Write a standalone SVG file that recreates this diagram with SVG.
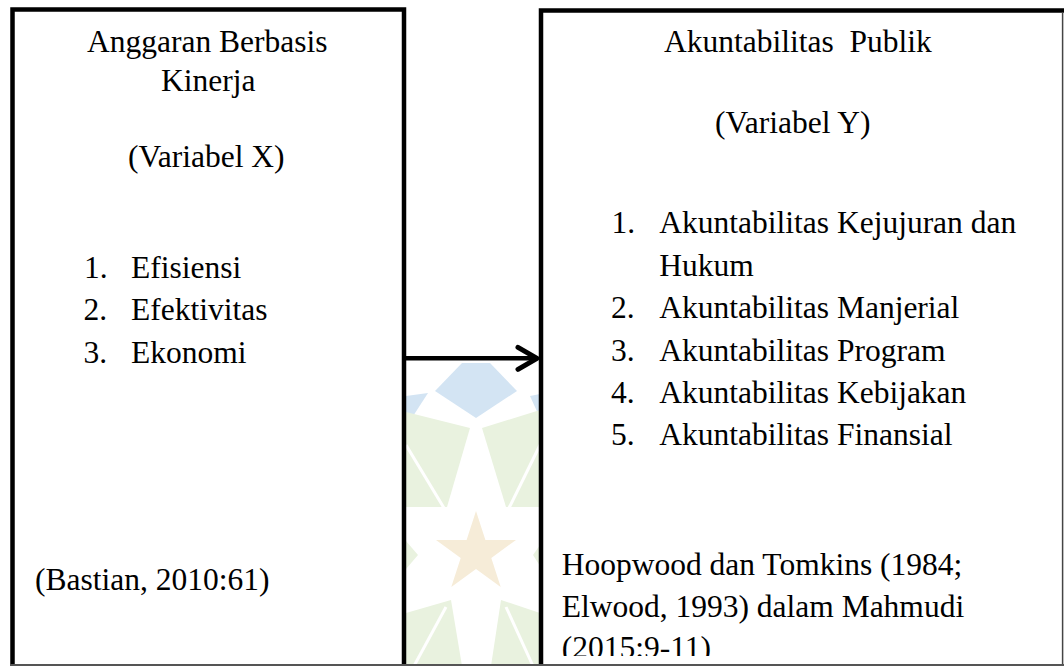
<svg xmlns="http://www.w3.org/2000/svg" width="1064" height="666" viewBox="0 0 1064 666">
  <defs>
    <style>
      .t { font-family: "Liberation Serif", "Times New Roman", serif; font-size: 31.5px; fill: #000; }
      .box { fill: #fff; stroke: #000; stroke-width: 4.5; }
      .edge { stroke: #000; stroke-width: 4.5; fill: none; }
      .wb { fill: #d3e4f3; }
      .wg { fill: #e9f2df; }
      .ws { fill: #f6ecd8; }
      .wl { stroke: #fff; stroke-width: 3; }
    </style>
    <marker id="chev" markerUnits="userSpaceOnUse" markerWidth="30" markerHeight="30" viewBox="-24 -15 30 30" refX="0" refY="0" orient="auto">
      <path d="M-19,-11 L0,0 L-19,11" fill="none" stroke="#000" stroke-width="5" stroke-linecap="round" stroke-linejoin="round"/>
    </marker>
    <clipPath id="gap"><rect x="406" y="361" width="134" height="305"/></clipPath>
    <clipPath id="page"><rect x="0" y="0" width="1064" height="656"/></clipPath>
  </defs>

  <rect width="1064" height="666" fill="#fff"/>

  <!-- faint background watermark -->
  <g id="watermark" clip-path="url(#gap)">
    <polygon class="wb" points="462,363 490,363 517,391 476,418 435,391"/>
    <polygon class="wb" points="406,396 428,393 406,427"/>
    <polygon class="wb" points="540,394 530,396 540,418"/>
    <polygon class="wg" points="406,412 470,428 447,507 406,507"/>
    <line class="wl" x1="406" y1="445" x2="444" y2="508"/>
    <polygon class="wg" points="482,428 540,410 540,507 506,507"/>
    <line class="wl" x1="540" y1="445" x2="509" y2="508"/>
    <polygon class="ws" points="476,511 485.4,540 516,540 491.3,558 500.7,587 476,569 451.3,587 460.7,558 436,540 466.6,540"/>
    <polygon class="wg" points="406,541 418,555 406,569"/>
    <polygon class="wg" points="540,545 533,555 540,566"/>
    <polygon class="wg" points="406,613 451,600 462,666 406,666"/>
    <line class="wl" x1="414" y1="666" x2="446" y2="607"/>
    <polygon class="wg" points="501,600 540,613 540,666 491,666"/>
    <line class="wl" x1="533" y1="666" x2="506" y2="607"/>
  </g>

  <g id="node-x">
    <rect class="box" x="12.5" y="9.5" width="391.5" height="670"/>
    <text class="t" x="87" y="52">Anggaran Berbasis</text>
    <text class="t" x="161" y="91">Kinerja</text>
    <text class="t" x="128" y="167">(Variabel X)</text>
    <text class="t" x="84" y="278">1.</text>
    <text class="t" x="131" y="278">Efisiensi</text>
    <text class="t" x="83.5" y="320">2.</text>
    <text class="t" x="131" y="320">Efektivitas</text>
    <text class="t" x="83.5" y="362.5">3.</text>
    <text class="t" x="131" y="362.5">Ekonomi</text>
    <text class="t" x="35" y="590">(Bastian, 2010:61)</text>
  </g>

  <g id="node-y">
    <rect x="541" y="10.5" width="523" height="660" fill="#fff"/>
    <path class="edge" d="M541,680 L541,10.5 L1064,10.5"/>
    <line x1="1062.6" y1="12" x2="1062.6" y2="666" stroke="#444" stroke-width="1.5"/>
    <text class="t" x="664" y="51.7" xml:space="preserve">Akuntabilitas  Publik</text>
    <text class="t" x="715" y="133.3">(Variabel Y)</text>
    <text class="t" x="611.5" y="233.3">1.</text>
    <text class="t" x="659.3" y="233.3">Akuntabilitas Kejujuran dan</text>
    <text class="t" x="659.3" y="276">Hukum</text>
    <text class="t" x="611" y="318.3">2.</text>
    <text class="t" x="659.3" y="318.3">Akuntabilitas Manjerial</text>
    <text class="t" x="611" y="360.7">3.</text>
    <text class="t" x="659.3" y="360.7">Akuntabilitas Program</text>
    <text class="t" x="611" y="403">4.</text>
    <text class="t" x="659.3" y="403">Akuntabilitas Kebijakan</text>
    <text class="t" x="611" y="445.3">5.</text>
    <text class="t" x="659.3" y="445.3">Akuntabilitas Finansial</text>
    <g clip-path="url(#page)">
      <text class="t" x="561.7" y="575">Hoopwood dan Tomkins (1984;</text>
      <text class="t" x="561.7" y="616.7">Elwood, 1993) dalam Mahmudi</text>
      <text class="t" x="561.7" y="658.4">(2015:9-11)</text>
    </g>
  </g>

  <g id="connectors">
    <line x1="406" y1="358.3" x2="537" y2="358.3" stroke="#000" stroke-width="4.5" marker-end="url(#chev)"/>
  </g>

  <line id="page-edge" x1="10" y1="665" x2="1064" y2="665" stroke="#555" stroke-width="2"/>
</svg>
